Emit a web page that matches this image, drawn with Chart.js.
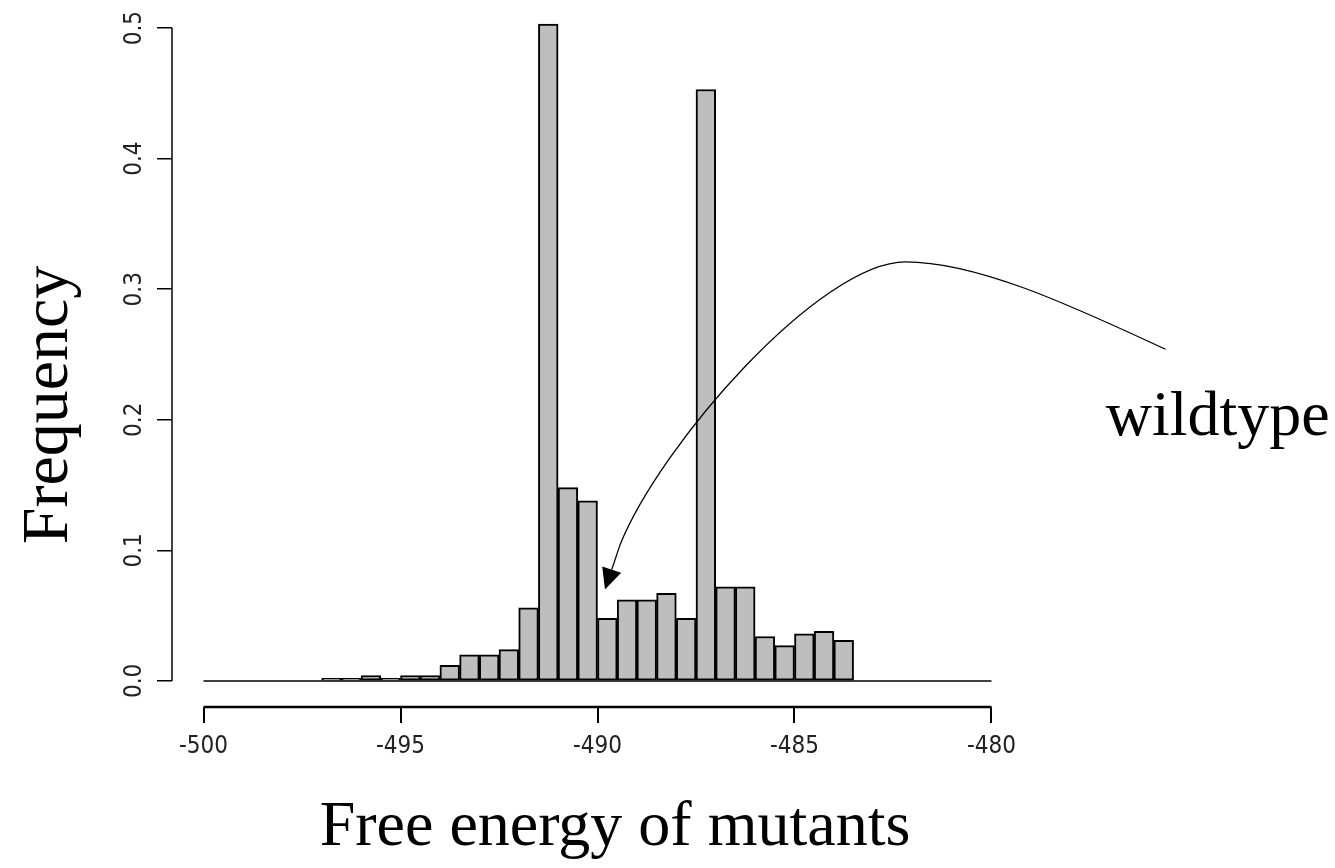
<!DOCTYPE html>
<html lang="en">
<head>
<meta charset="UTF-8">
<title>Free energy of mutants</title>
<script src="https://cdn.jsdelivr.net/npm/chart.js@4.4.1/dist/chart.umd.min.js"></script>
<style>
    * { margin: 0; padding: 0; box-sizing: border-box; }
    body { background: #fff; }
    .wrap { position: relative; width: 1335px; height: 868px; }
</style>
</head>
<body>
<div class="wrap"><canvas id="hist"></canvas></div>
<script>
// histogram: bins of width 0.5, mid points and density
const binMids = [-496.75, -496.25, -495.75, -495.25, -494.75, -494.25, -493.75, -493.25, -492.75,
                 -492.25, -491.75, -491.25, -490.75, -490.25, -489.75, -489.25, -488.75, -488.25,
                 -487.75, -487.25, -486.75, -486.25, -485.75, -485.25, -484.75, -484.25, -483.75];
const density = [0.002, 0.002, 0.004, 0.002, 0.004, 0.004, 0.012, 0.020, 0.020,
                 0.024, 0.056, 0.503, 0.148, 0.138, 0.048, 0.062, 0.062, 0.067,
                 0.048, 0.453, 0.072, 0.072, 0.034, 0.027, 0.036, 0.038, 0.031];

const xTicks = [-500, -495, -490, -485, -480];
const yTicks = [0, 0.1, 0.2, 0.3, 0.4, 0.5];
const baseLineX = [-500, -480];
const xLimits = [-500.8, -479.2];
const yLimits = [-0.02, 0.52];

const xTitle = 'Free energy of mutants';
const yTitle = 'Frequency';
const noteText = 'wildtype';

// arrow pointing at the wildtype bin (data units)
const arrowStart = [-475.58, 0.254];
const arrowCurve1 = [[-477.74, 0.284], [-480.28, 0.321], [-482.18, 0.321]];
const arrowCurve2 = [[-484.35, 0.321], [-488.41, 0.181], [-489.43, 0.104]];
const arrowTip = [-489.81, 0.070];
const notePos = [-477.1, 0.188];

const serif = "'Liberation Serif', 'Times New Roman', serif";
const narrow = "'Liberation Sans Narrow', 'DejaVu Sans Condensed', 'Liberation Sans', sans-serif";

const rStyle = {
    id: 'rStyle',
    afterDraw(chart) {
        const ctx = chart.ctx;
        const xs = chart.scales.x, ys = chart.scales.y;
        const area = chart.chartArea;
        const px = v => xs.getPixelForValue(v);
        const py = v => ys.getPixelForValue(v);

        ctx.save();
        ctx.strokeStyle = '#000';
        // axis lines only between first and last tick, like R
        ctx.lineWidth = 2.5;
        ctx.beginPath();
        ctx.moveTo(px(xTicks[0]), area.bottom);
        ctx.lineTo(px(xTicks[xTicks.length - 1]), area.bottom);
        ctx.stroke();
        ctx.lineWidth = 1.5;
        ctx.beginPath();
        ctx.moveTo(area.left, py(yTicks[0]));
        ctx.lineTo(area.left, py(yTicks[yTicks.length - 1]));
        ctx.stroke();

        // arrow
        const pt = p => [px(p[0]), py(p[1])];
        const s = pt(arrowStart);
        const c1 = arrowCurve1.map(pt), c2 = arrowCurve2.map(pt);
        const tip = pt(arrowTip);
        const end = c2[2];
        const dx = tip[0] - end[0], dy = tip[1] - end[1];
        const len = Math.hypot(dx, dy);
        const ux = dx / len, uy = dy / len;
        const headLen = 21, headHalf = 10;
        const bx = tip[0] - ux * headLen, by = tip[1] - uy * headLen;

        ctx.lineWidth = 1.3;
        ctx.beginPath();
        ctx.moveTo(s[0], s[1]);
        ctx.bezierCurveTo(c1[0][0], c1[0][1], c1[1][0], c1[1][1], c1[2][0], c1[2][1]);
        ctx.bezierCurveTo(c2[0][0], c2[0][1], c2[1][0], c2[1][1], c2[2][0], c2[2][1]);
        ctx.lineTo(bx, by);
        ctx.stroke();
        ctx.fillStyle = '#000';
        ctx.beginPath();
        ctx.moveTo(tip[0], tip[1]);
        ctx.lineTo(bx - uy * headHalf, by + ux * headHalf);
        ctx.lineTo(bx + uy * headHalf, by - ux * headHalf);
        ctx.closePath();
        ctx.fill();

        // titles and note
        ctx.fillStyle = '#000';
        ctx.textBaseline = 'alphabetic';
        ctx.font = '64px ' + serif;
        ctx.textAlign = 'center';
        ctx.fillText(xTitle, 615, 845);
        ctx.textAlign = 'left';
        const n = pt(notePos);
        ctx.fillText(noteText, n[0], n[1]);

        ctx.translate(67, 405);
        ctx.rotate(-Math.PI / 2);
        ctx.font = '66px ' + serif;
        ctx.textAlign = 'center';
        ctx.fillText(yTitle, 0, 0);
        ctx.restore();
    }
};

new Chart(document.getElementById('hist'), {
    type: 'bar',
    data: {
        datasets: [{
            type: 'line',
            data: baseLineX.map(x => ({ x: x, y: 0 })),
            borderColor: '#000',
            borderWidth: 1.5,
            pointRadius: 0,
            order: 0
        }, {
            data: binMids.map((x, i) => ({ x: x, y: density[i] })),
            backgroundColor: '#bebebe',
            borderColor: '#000',
            borderWidth: 2,
            borderSkipped: false,
            barPercentage: 1,
            categoryPercentage: 1,
            order: 1
        }]
    },
    options: {
        responsive: true,
        maintainAspectRatio: false,
        animation: false,
        layout: { padding: { left: 0, right: 312, top: 2, bottom: 0 } },
        plugins: { legend: { display: false }, tooltip: { enabled: false } },
        scales: {
            x: {
                type: 'linear',
                offset: false,
                min: xLimits[0],
                max: xLimits[1],
                afterBuildTicks: s => { s.ticks = xTicks.map(v => ({ value: v })); },
                afterFit: s => { s.height = 161; s.paddingLeft = 0; s.paddingRight = 0; },
                border: { display: false },
                grid: { offset: false, drawOnChartArea: false, tickLength: 16, color: '#000', lineWidth: 2 },
                ticks: {
                    autoSkip: false,
                    maxRotation: 0,
                    padding: 9,
                    color: '#222',
                    font: { family: narrow, size: 24 },
                    callback: v => String(v)
                }
            },
            y: {
                min: yLimits[0],
                max: yLimits[1],
                afterBuildTicks: s => { s.ticks = yTicks.map(v => ({ value: v })); },
                afterFit: s => { s.width = 172; s.paddingTop = 0; s.paddingBottom = 0; },
                border: { display: false },
                grid: { drawOnChartArea: false, tickLength: 15, color: '#000', lineWidth: 1.5 },
                ticks: {
                    autoSkip: false,
                    minRotation: 90,
                    maxRotation: 90,
                    crossAlign: 'center',
                    padding: 5,
                    color: '#222',
                    font: { family: narrow, size: 24 },
                    callback: v => v.toFixed(1)
                }
            }
        }
    },
    plugins: [rStyle]
});
</script>
</body>
</html>
